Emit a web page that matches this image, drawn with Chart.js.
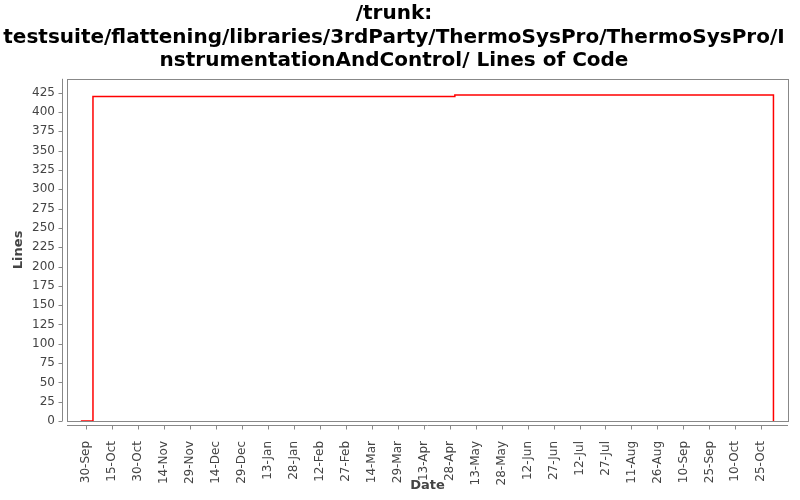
<!DOCTYPE html>
<html>
<head>
<meta charset="utf-8">
<script src="https://cdn.jsdelivr.net/npm/chart.js@4/dist/chart.umd.min.js"></script>
<style>
  body { margin: 0; background: #fff; }
  #wrap { width: 800px; height: 500px; }
</style>
</head>
<body>
<div id="wrap"><canvas id="chart"></canvas></div>
<script>
// data
const dates = ['2010-09-27', '2010-10-04', '2011-05-01', '2011-11-01'];
const lines = [0, 420, 422, 0];

// axis ticks
const baseDate = '2010-09-30';
const tickStepDays = 15;
const tickCount = 27;
const yStep = 25;
const monthNames = ['Jan', 'Feb', 'Mar', 'Apr', 'May', 'Jun', 'Jul', 'Aug', 'Sep', 'Oct', 'Nov', 'Dec'];

const titleLines = [
  '/trunk:',
  'testsuite/flattening/libraries/3rdParty/ThermoSysPro/ThermoSysPro/I',
  'nstrumentationAndControl/ Lines of Code'
];

function toMs(s) {
  const p = s.split('-');
  return Date.UTC(+p[0], +p[1] - 1, +p[2]);
}
const DAY = 86400000;
const base = toMs(baseDate);

function dayOffset(s) {
  return Math.round((toMs(s) - base) / DAY);
}

function dayLabel(d) {
  const dt = new Date(base + d * DAY);
  const dd = dt.getUTCDate();
  return (dd < 10 ? '0' + dd : dd) + '-' + monthNames[dt.getUTCMonth()];
}

const points = dates.map((d, i) => ({ x: dayOffset(d), y: lines[i] }));
console.log('points', points);

const axisColor = '#888888';
const textColor = '#444444';

const frame = {
  id: 'frame',
  beforeDatasetsDraw(chart) {
    const a = chart.chartArea;
    const ctx = chart.ctx;
    ctx.save();
    ctx.strokeStyle = axisColor;
    ctx.lineWidth = 1;
    ctx.strokeRect(Math.round(a.left) + 0.5, Math.round(a.top) + 0.5,
      Math.round(a.right - a.left), Math.round(a.bottom - a.top));
    ctx.restore();
  },
  afterDraw(chart) {
    const a = chart.chartArea;
    const ctx = chart.ctx;
    const xs = chart.scales.x;
    const ys = chart.scales.y;
    ctx.save();
    ctx.strokeStyle = axisColor;
    ctx.lineWidth = 1;
    ctx.beginPath();
    // y axis line, offset from the plot
    const ax = Math.round(a.left) - 4.5;
    ctx.moveTo(ax, a.top);
    ctx.lineTo(ax, a.bottom);
    for (let t of ys.ticks) {
      const y = Math.round(ys.getPixelForValue(t.value)) + 0.5;
      ctx.moveTo(ax - 4, y);
      ctx.lineTo(ax, y);
    }
    // x axis line
    const ay = Math.round(a.bottom) + 4.5;
    ctx.moveTo(a.left, ay);
    ctx.lineTo(a.right, ay);
    for (let t of xs.ticks) {
      const x = Math.round(xs.getPixelForValue(t.value)) + 0.5;
      ctx.moveTo(x, ay);
      ctx.lineTo(x, ay + 4);
    }
    ctx.stroke();
    ctx.restore();
  }
};

new Chart(document.getElementById('chart'), {
  type: 'line',
  data: {
    datasets: [{
      label: 'Lines',
      data: points,
      borderColor: '#ff0000',
      borderWidth: 1.5,
      pointRadius: 0,
      fill: false,
      stepped: true,
      tension: 0
    }]
  },
  options: {
    responsive: true,
    maintainAspectRatio: false,
    animation: false,
    layout: { padding: { left: 0, right: 12, top: 0, bottom: 0 } },
    plugins: {
      legend: { display: false },
      tooltip: { enabled: false },
      title: {
        display: true,
        text: titleLines,
        color: '#000',
        font: { family: 'DejaVu Sans', size: 20, weight: 'bold', lineHeight: 1.18 },
        padding: { top: 2, bottom: 6 }
      }
    },
    scales: {
      x: {
        type: 'linear',
        min: -11,
        max: 405.4,
        afterBuildTicks: (scale) => {
          const ticks = [];
          for (let i = 0; i < tickCount; i++) ticks.push({ value: i * tickStepDays });
          scale.ticks = ticks;
        },
        afterFit: (scale) => { scale.height = 79; },
        grid: { display: false },
        border: { display: false },
        ticks: {
          autoSkip: false,
          maxRotation: 90,
          minRotation: 90,
          padding: 12,
          color: textColor,
          font: { family: 'DejaVu Sans', size: 12 },
          callback: (v) => dayLabel(v)
        },
        title: {
          display: true,
          text: 'Date',
          color: textColor,
          font: { family: 'DejaVu Sans', size: 13, weight: 'bold' },
          padding: { top: 0, bottom: 7 }
        }
      },
      y: {
        min: 0,
        max: 443,
        afterFit: (scale) => { scale.width = 67; },
        grid: { display: false },
        border: { display: false },
        ticks: {
          stepSize: yStep,
          includeBounds: false,
          padding: 4,
          color: textColor,
          font: { family: 'DejaVu Sans', size: 12 }
        },
        title: {
          display: true,
          text: 'Lines',
          color: textColor,
          font: { family: 'DejaVu Sans', size: 13, weight: 'bold' },
          padding: { top: 11, bottom: 0 }
        }
      }
    }
  },
  plugins: [frame]
});
</script>
</body>
</html>
